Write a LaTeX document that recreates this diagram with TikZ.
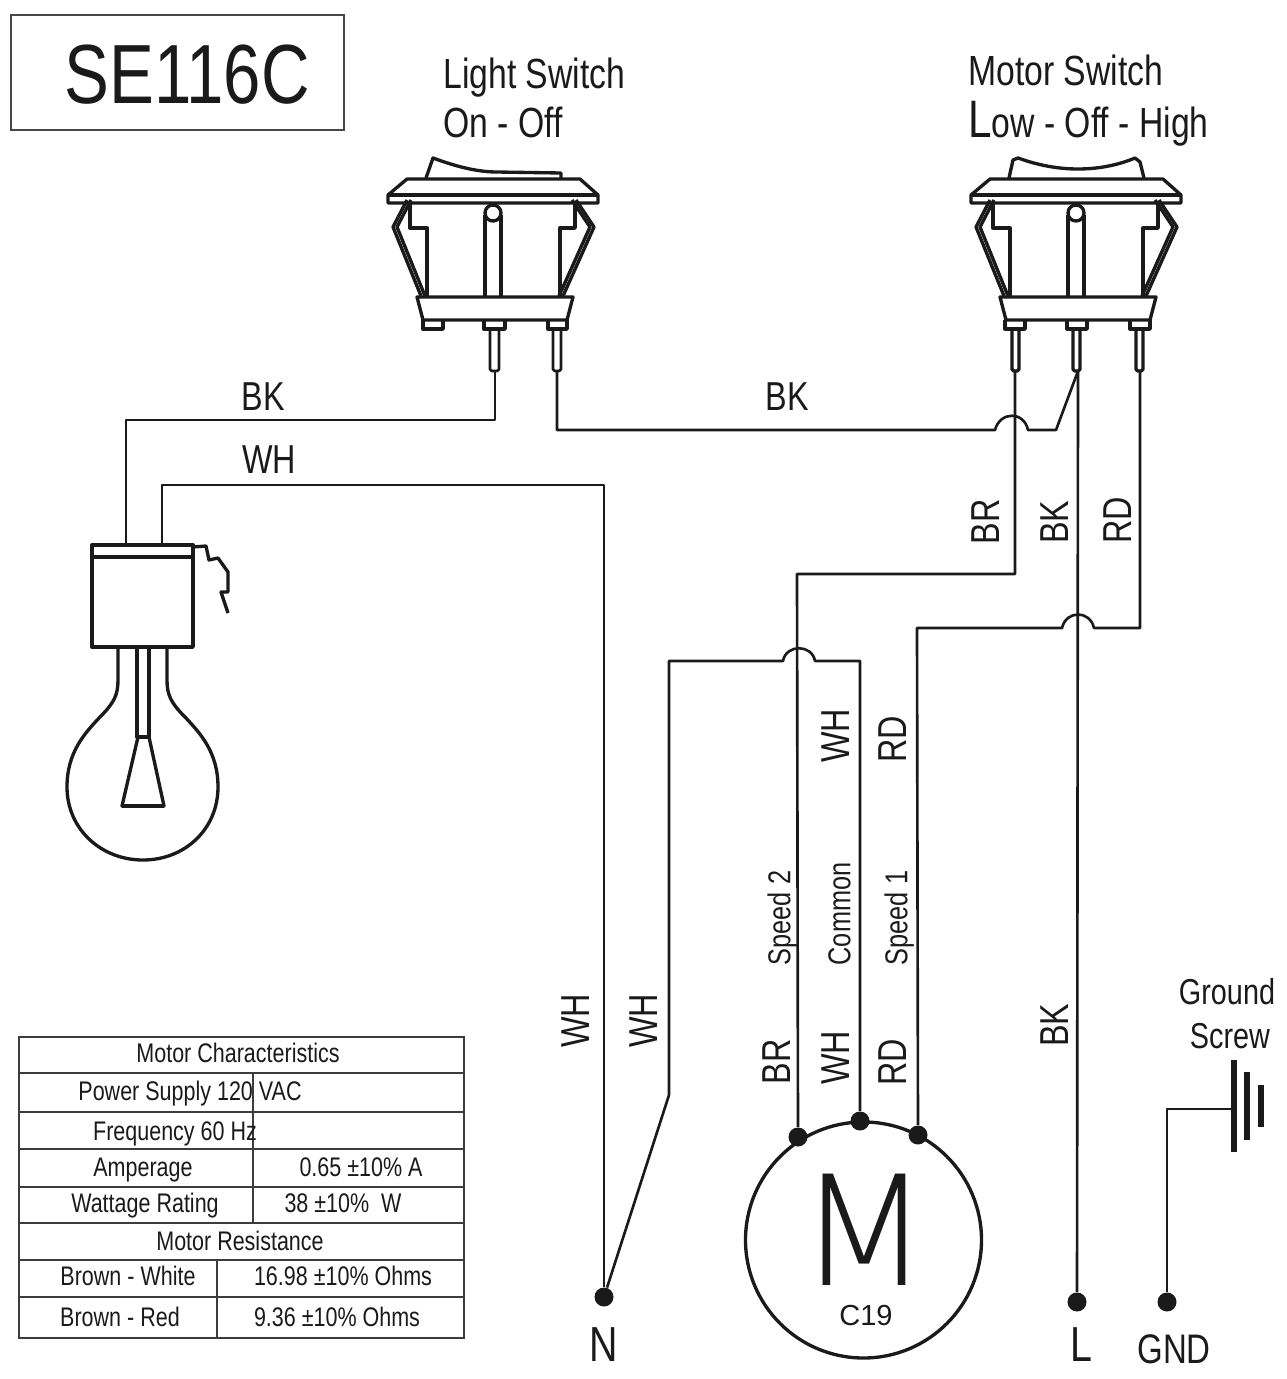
\documentclass[tikz,border=0pt]{standalone}
\usepackage{fontspec}
\setmainfont{Liberation Sans}[FakeStretch=0.8]
\newfontfamily\widefont{Liberation Sans}
\newfontfamily\thinfont{DejaVu Sans ExtraLight}
\definecolor{ink}{HTML}{1A1A1A}
\newcommand{\pxfont}[1]{\fontsize{#1}{#1}\selectfont}
\tikzset{
    wire/.style={draw=ink, line width=1.5pt, line join=round},
    swline/.style={draw=ink, line width=1.9pt, line join=round},
    gridline/.style={draw=ink!85, line width=0.7pt},
    termdot/.style={circle, fill=ink, inner sep=0pt, minimum size=0.38cm},
    txt/.style={text=ink, inner sep=0pt},
    title/.style={txt, anchor=west, font=\pxfont{24}},
    wirelabel/.style={txt, font=\pxfont{23}},
    uplabel/.style={wirelabel, rotate=90},
    speedlabel/.style={txt, rotate=90, font=\pxfont{18}, text height=13pt, text depth=0pt},
    cell/.style={txt, font=\pxfont{15.3}, text height=11pt, text depth=3pt},
    switchbody/.pic={
        % flange
        \draw[swline] (407,179) -- (580,179) -- (598,195) -- (598,203) -- (388,203) -- (388,195) -- cycle;
        \draw[swline] (388,195) -- (598,195);
        % housing
        \draw[swline] (410,203) -- (410,228) -- (427,228) -- (427,297);
        \draw[swline] (575,203) -- (575,228) -- (560,228) -- (560,297);
        % side clips
        \draw[swline] (407,200) -- (393,227) -- (421,296);
        \draw[swline] (411,200) -- (397,227) -- (425,296);
        \draw[swline] (576,200) -- (594,227) -- (563,296);
        \draw[swline] (572,200) -- (590,227) -- (559,296);
        % centre post
        \draw[swline] (485,215) -- (485,297);
        \draw[swline] (501,215) -- (501,297);
        \draw[swline] (493,213) circle (8);
        % lower block
        \draw[swline] (417,297) -- (573,297) -- (567,320) -- (423,320) -- cycle;
    },
}

\begin{document}
\begin{tikzpicture}[x=0.02cm,y=-0.02cm]
\useasboundingbox (0,0) rectangle (1287,1379);

% model box
\draw[draw=ink!80, line width=1.4pt] (11,15) rectangle (344,130);
\node[txt, font=\pxfont{47.8}] (model) at (187,75) {SE116C};

% switch titles
\node[title] (lighttitle) at (443,78) {Light Switch};
\node[title] (lightstate) at (443,122) {On - Off};
\node[title] (motortitle) at (968,70) {Motor Switch};
\node[title] (motorstate) at (968,124) {{\pxfont{30}L}ow - Off - High};

% light switch
\pic at (0,0) {switchbody};
\draw[swline] (426,178) -- (433,158) .. controls (460,168) and (480,172) .. (497,172) -- (561,173) -- (561,178);
\draw[swline] (423,320) -- (423,329) -- (443,329) -- (443,320);
\draw[swline] (484,320) -- (484,329) -- (505,329) -- (505,320);
\draw[swline] (548,320) -- (548,329) -- (567,329) -- (567,320);
\draw[wire, rounded corners=1pt] (490,329) -- (490,371) -- (499,371) -- (499,329);
\draw[wire, rounded corners=1pt] (553,329) -- (553,371) -- (561,371) -- (561,329);
\coordinate (lightcom) at (495,371);
\coordinate (lightout) at (557,371);

% motor switch
\pic at (583,0) {switchbody};
\draw[swline] (1009,178) -- (1013,160) -- (1018,158) .. controls (1040,166) and (1060,169) .. (1078,169) .. controls (1096,169) and (1116,166) .. (1135,158) -- (1140,162) -- (1144,178);
\draw[swline] (1005,320) -- (1005,329) -- (1025,329) -- (1025,320);
\draw[swline] (1067,320) -- (1067,329) -- (1087,329) -- (1087,320);
\draw[swline] (1130,320) -- (1130,329) -- (1150,329) -- (1150,320);
\foreach \x in {1012,1073,1136} {
    \draw[swline, rounded corners=1pt] (\x,329) -- (\x,371) -- (\x+7,371) -- (\x+7,329);
}
\coordinate (motorlow) at (1015,371);
\coordinate (motorcom) at (1078,371);
\coordinate (motorhigh) at (1140,371);

% lamp
\coordinate (lampbk) at (126,545);
\coordinate (lampwh) at (162,545);
\draw[swline] (92,545) rectangle (193,647);
\draw[swline] (92,557) -- (193,557);
\draw[swline] (193,547) -- (206,546) -- (209,560) -- (218,558) -- (228,572) -- (228,592) -- (221,592) -- (228,613);
\draw[swline] (118,647) -- (118,680) .. controls (118,695) and (114,703) .. (100,717) .. controls (85,733) and (67,752) .. (67,787) .. controls (67,829) and (101,860) .. (143,860) .. controls (185,860) and (218,829) .. (218,787) .. controls (218,752) and (200,733) .. (185,717) .. controls (171,703) and (167,695) .. (167,680) -- (167,647);
\draw[swline] (137,647) -- (137,737) -- (149,737) -- (149,647);
\draw[swline] (138,737) -- (122,806) -- (164,806) -- (149,737);
\draw[swline, line width=2.8pt] (122,806) -- (164,806);

% terminals
\node[termdot] (N) at (604,1297) {};
\node[termdot] (L) at (1077,1302) {};
\node[termdot] (GND) at (1167,1302) {};
\node[termdot] (speedtwo) at (798,1137) {};
\node[termdot] (common) at (860,1121) {};
\node[termdot] (speedone) at (918,1135) {};
\node[txt, font=\pxfont{28}] (Nlabel) at (604,1345) {N};
\node[txt, font=\pxfont{28}] (Llabel) at (1081,1345) {L};
\node[txt, font=\pxfont{23.5}] (GNDlabel) at (1174,1349) {GND};

% wires
\draw[wire] (lightcom) -- (495,420) -- (126,420) -- (lampbk);
\draw[wire] (lampwh) -- (162,485) -- (604,485) -- (N);
\draw[wire] (N) -- (669,1095) -- (669,661) -- (783,661) .. controls (786,644) and (812,644) .. (815,661) -- (860,661) -- (common);
\draw[wire] (motorlow) -- (1015,574) -- (797,574) -- (speedtwo);
\draw[wire] (motorhigh) -- (1140,628) -- (1094,628) .. controls (1090,610) and (1066,610) .. (1062,628) -- (917,628) -- (speedone);
\draw[wire] (motorcom) -- (L);
\draw[wire] (motorcom) -- (1056,430) -- (1028,430) .. controls (1024,411) and (1000,411) .. (995,430) -- (557,430) -- (lightout);

% ground
\draw[wire] (GND) -- (1167,1109) -- (1232,1109);
\draw[draw=ink, line width=3pt] (1234,1060) -- (1234,1152);
\draw[draw=ink, line width=3pt] (1247,1072) -- (1247,1140);
\draw[draw=ink, line width=3pt] (1261,1085) -- (1261,1127);
\node[txt, font=\pxfont{20.5}] (groundtxt) at (1227,992) {Ground};
\node[txt, font=\pxfont{20.5}] (screwtxt) at (1230,1036) {Screw};

% motor
\draw[swline] (863.5,1240) circle (118);
\node[txt, font=\thinfont\pxfont{87}] (Mlabel) at (864,1230) {M};
\node[txt, font=\widefont\pxfont{16.5}] (C19) at (866,1316) {C19};

% wire labels
\node[wirelabel] (bklamp) at (263,397) {BK};
\node[wirelabel] (whlamp) at (269,460) {WH};
\node[wirelabel] (bkjump) at (787,397) {BK};
\foreach \x/\y/\t in {986/522/BR, 1055/522/BK, 1118/520/RD, 836/736/WH, 893/739/RD,
    777/1062/BR, 836/1058/WH, 893/1062/RD, 576/1021/WH, 644/1021/WH, 1055/1025/BK} {
    \node[uplabel] at (\x,\y) {\t};
}
\foreach \x/\y/\t in {779/918/Speed 2, 839/914/Common, 896/918/Speed 1} {
    \node[speedlabel] at (\x,\y) {\t};
}

% table
\draw[gridline] (19,1037) rectangle (464,1338);
\foreach \y in {1073,1112,1149,1187,1223,1260,1297} {
    \draw[gridline] (19,\y) -- (464,\y);
}
\draw[gridline] (253,1073) -- (253,1223);
\draw[gridline] (217,1260) -- (217,1338);
\foreach \x/\y/\t in {238/1055/Motor Characteristics, 190/1093/Power Supply 120 VAC,
    175/1133/Frequency 60 Hz, 143/1169/Amperage, 361/1169/0.65 ±10\% A,
    145/1205/Wattage Rating, 343/1205/38 ±10\%~~W, 240/1243/Motor Resistance,
    128/1278/Brown - White, 343/1278/16.98 ±10\% Ohms,
    120/1319/Brown - Red, 337/1319/9.36 ±10\% Ohms} {
    \node[cell] at (\x,\y) {\t};
}
\end{tikzpicture}
\end{document}
